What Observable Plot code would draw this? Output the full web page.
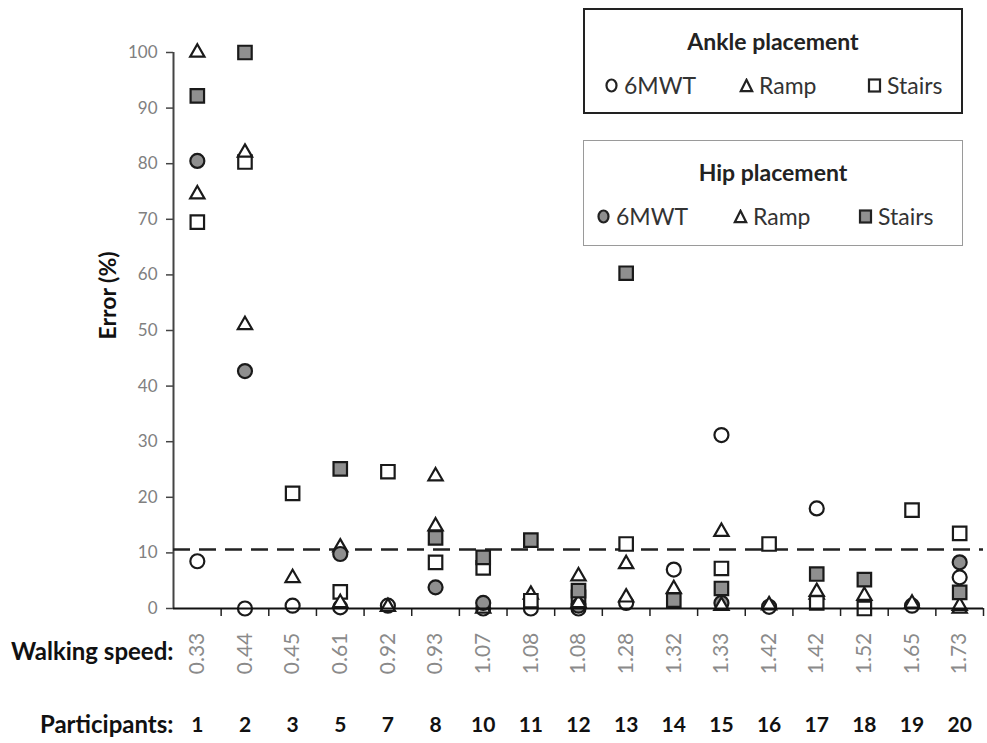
<!DOCTYPE html>
<html>
<head>
<meta charset="utf-8">
<script src="https://cdn.jsdelivr.net/npm/d3@7"></script>
<script src="https://cdn.jsdelivr.net/npm/@observablehq/plot@0.6"></script>
<style>
  html, body { margin: 0; padding: 0; background: #fff; }
  #wrap { position: relative; width: 987px; height: 743px; font-family: Lato, "Open Sans", sans-serif; }
  #wrap svg text.sp { letter-spacing: 2px; }
  .lg { position: absolute; box-sizing: border-box; background: #fff; }
  .lg .t { position: absolute; left: 0; right: 0; text-align: center; font-weight: bold; font-size: 23px; color: #222; }
  .lg .it { position: absolute; font-size: 23px; color: #333; display: flex; align-items: center; white-space: nowrap; }
  .lg .it svg { margin-right: 5px; }
</style>
</head>
<body>
<div id="wrap"></div>
<script>
const participants = [1, 2, 3, 5, 7, 8, 10, 11, 12, 13, 14, 15, 16, 17, 18, 19, 20];
const speeds = ["0.33","0.44","0.45","0.61","0.92","0.93","1.07","1.08","1.08","1.28","1.32","1.33","1.42","1.42","1.52","1.65","1.73"];
const yTicks = [0, 10, 20, 30, 40, 50, 60, 70, 80, 90, 100];
const threshold = 10.6;

// Ankle placement (open symbols)
const ankle6MWT   = [8.5, 0, 0.5, 0.2, 0.5, null, 0, 0, 0, 1, 7, 31.2, 0.3, 18, null, 0.5, 5.6];
const ankleRamp   = [74.5, 51, 5.5, 11, 0.3, 23.8, 0, 2.5, 5.8, 8, 3.5, 13.8, 0.6, 2.5, 2.3, 0.9, 0];
const ankleStairs = [69.5, 80.3, 20.7, 3, 24.6, 8.3, 7.3, 1.4, 2, 11.6, null, 7.2, 11.6, 1, 0, 17.7, 13.5];
// Hip placement (grey symbols)
const hip6MWT     = [80.5, 42.7, null, 9.8, null, 3.8, 1, null, 0.5, null, null, 1, null, null, null, null, 8.3];
const hipRamp     = [100, 82, null, 1, null, 14.8, null, null, 1, 2, null, 0.5, null, 3, null, null, 0.5];
const hipStairs   = [92.2, 100, null, 25.1, null, 12.7, 9.2, 12.3, 3.2, 60.3, 1.5, 3.6, null, 6.2, 5.2, null, 2.9];

const seriesDefs = [
  {name: "Ankle 6MWT",   values: ankle6MWT,   symbol: "circle",   fill: "white", r: 7},
  {name: "Ankle Ramp",   values: ankleRamp,   symbol: "triangle", fill: "white", r: 5.3},
  {name: "Ankle Stairs", values: ankleStairs, symbol: "square",   fill: "white", r: 7.6},
  {name: "Hip 6MWT",     values: hip6MWT,     symbol: "circle",   fill: "#8f8f8f", r: 7},
  {name: "Hip Ramp",     values: hipRamp,     symbol: "triangle", fill: "white", r: 5.3},
  {name: "Hip Stairs",   values: hipStairs,   symbol: "square",   fill: "#8f8f8f", r: 7.6}
];

const boundaries = d3.range(0.5, participants.length, 1);

const dotMarks = seriesDefs.map(s => {
  const rows = [];
  s.values.forEach((v, i) => { if (v != null) rows.push({i, v}); });
  return Plot.dot(rows, {x: "i", y: "v", symbol: s.symbol, r: s.r, fill: s.fill, stroke: "#1a1a1a", strokeWidth: 2.2});
});

const chart = Plot.plot({
  width: 987,
  height: 743,
  marginLeft: 173,
  marginRight: 4,
  marginTop: 52,
  marginBottom: 135,
  x: {domain: [-0.5, participants.length - 0.5], axis: null},
  y: {domain: [0, 100], axis: null},
  style: {fontFamily: "Lato, 'Open Sans', sans-serif", background: "white", overflow: "visible"},
  marks: [
    Plot.axisY({ticks: yTicks, tickSize: 7, tickPadding: 9, stroke: "#444", strokeWidth: 1.5, fill: "#808080", fontSize: 17, label: null}),
    Plot.ruleX([-0.5], {stroke: "#444", strokeWidth: 2}),
    Plot.axisX({ticks: boundaries, tickSize: 8, tickFormat: () => "", stroke: "#222", strokeWidth: 1.5, label: null}),
    Plot.ruleY([threshold], {stroke: "#222", strokeWidth: 2.5, strokeDasharray: "17,9"}),
    ...dotMarks,
    Plot.ruleY([0], {stroke: "#111", strokeWidth: 2}),
    Plot.text(["Error (%)"], {frameAnchor: "left", dx: -65, dy: -35, rotate: -90, textAnchor: "middle", lineAnchor: "middle", fontWeight: "bold", fontSize: 23, fill: "#111", ariaLabel: "ylabel"}),
    Plot.text(speeds, {x: (d, i) => i, text: d => d, frameAnchor: "bottom", dy: 45, rotate: -90, textAnchor: "middle", lineAnchor: "middle", fill: "#8a8a8a", fontSize: 21, ariaLabel: "speeds"}),
    Plot.text(participants, {x: (d, i) => i, text: d => String(d), frameAnchor: "bottom", dy: 117, lineAnchor: "middle", fontWeight: "bold", fontSize: 21, fill: "#111"}),
    Plot.text(["Walking speed:"], {frameAnchor: "bottom-left", dy: 44, textAnchor: "end", lineAnchor: "middle", fontWeight: "bold", fontSize: 24, fill: "#111"}),
    Plot.text(["Participants:"], {frameAnchor: "bottom-left", dy: 117, textAnchor: "end", lineAnchor: "middle", fontWeight: "bold", fontSize: 24, fill: "#111"})
  ]
});

d3.select(chart).selectAll('g[aria-label="speeds"] text, g[aria-label="ylabel"] text').classed("sp", true);

const wrap = document.getElementById("wrap");
wrap.appendChild(chart);

// Legends
function sym(type, fill) {
  const s = 15;
  let shape;
  if (type === "circle") shape = `<ellipse cx="7.5" cy="7.5" rx="5" ry="6" fill="${fill}" stroke="#222" stroke-width="2.2"/>`;
  else if (type === "triangle") shape = `<polygon points="7.5,1.8 13.2,13.2 1.8,13.2" fill="${fill}" stroke="#222" stroke-width="2.2"/>`;
  else shape = `<rect x="2" y="1.5" width="11" height="12" fill="${fill}" stroke="#222" stroke-width="2.2"/>`;
  return `<svg width="${s}" height="${s}" viewBox="0 0 15 15">${shape}</svg>`;
}
const legends = [
  {title: "Ankle placement", top: 8, border: "2px solid #222", fill: "white",
   items: [["circle", "6MWT", 602], ["triangle", "Ramp", 737], ["square", "Stairs", 865]]},
  {title: "Hip placement", top: 140, border: "1.5px solid #9a9a9a", fill: "#8f8f8f",
   items: [["circle", "6MWT", 595], ["triangle", "Ramp", 732], ["square", "Stairs", 857]]}
];
legends.forEach(L => {
  const box = document.createElement("div");
  box.className = "lg";
  box.style.left = "583px";
  box.style.top = L.top + "px";
  box.style.width = "380px";
  box.style.height = "106px";
  box.style.border = L.border;
  let html = `<div class="t" style="top:17px">${L.title}</div>`;
  L.items.forEach(([t, label, x]) => {
    const f = (t === "triangle") ? "white" : L.fill;
    html += `<div class="it" style="left:${x - 583}px; top:61px">${sym(t, f)}${label}</div>`;
  });
  box.innerHTML = html;
  wrap.appendChild(box);
});
</script>
</body>
</html>
